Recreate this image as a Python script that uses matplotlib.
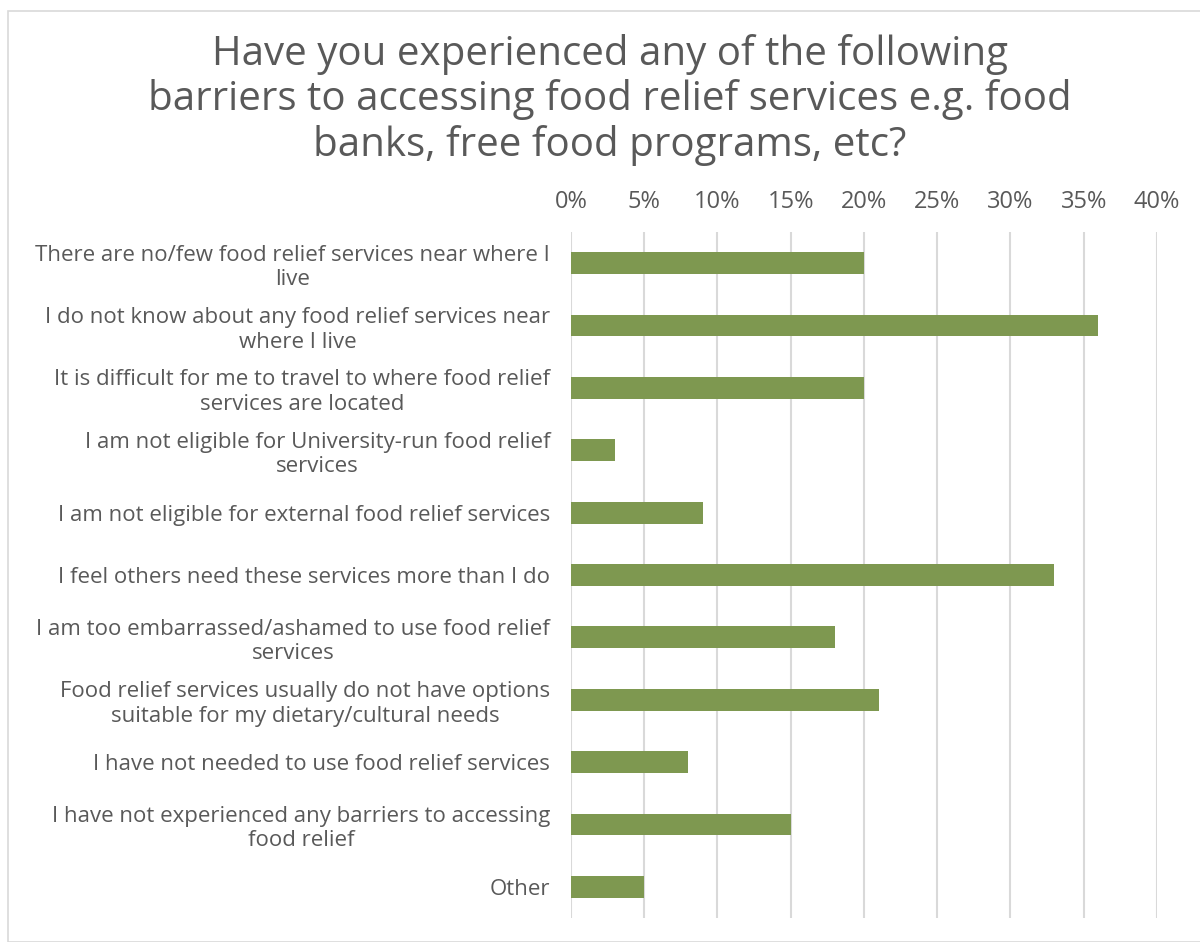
import matplotlib.pyplot as plt
from matplotlib.patches import Rectangle

plt.rcParams['font.family'] = ['Open Sans', 'DejaVu Sans']

labels = [
    "There are no/few food relief services near where I\nlive",
    "I do not know about any food relief services near\nwhere I live",
    "It is difficult for me to travel to where food relief\nservices are located",
    "I am not eligible for University-run food relief\nservices",
    "I am not eligible for external food relief services",
    "I feel others need these services more than I do",
    "I am too embarrassed/ashamed to use food relief\nservices",
    "Food relief services usually do not have options\nsuitable for my dietary/cultural needs",
    "I have not needed to use food relief services",
    "I have not experienced any barriers to accessing\nfood relief",
    "Other",
]
values = [20, 36, 20, 3, 9, 33, 18, 21, 8, 15, 5]
ticks = [0, 5, 10, 15, 20, 25, 30, 35, 40]

title = ("Have you experienced any of the following\n"
         "barriers to accessing food relief services e.g. food\n"
         "banks, free food programs, etc?")

text_col = '#595959'
bar_col = '#7E9850'

fig = plt.figure(figsize=(12, 9.42), dpi=100)
fig.patches.append(Rectangle((8 / 1200, 0), 1.2, 1 - 11 / 942, transform=fig.transFigure,
                             fill=False, edgecolor='#D9D9D9', linewidth=1.2))

ax = fig.add_axes([0.4758, 0.0255, 0.4883, 0.7282])
y = list(range(len(labels)))
ax.barh(y, values, height=0.35, color=bar_col, zorder=3)
ax.set_ylim(len(labels) - 0.5, -0.5)
ax.set_xlim(0, 40)
ax.set_xticks(ticks)
ax.set_xticklabels([f'{t}%' for t in ticks])
ax.xaxis.tick_top()
ax.tick_params(axis='x', length=0, pad=13, labelsize=17, labelcolor=text_col)
ax.tick_params(axis='y', length=0, pad=15, labelsize=16, labelcolor=text_col)
ax.set_yticks(y)
ax.set_yticklabels(labels, multialignment='center', linespacing=1.22)
ax.grid(axis='x', color='#D9D9D9', linewidth=1.5, zorder=0)
for s in ax.spines.values():
    s.set_visible(False)

fig.text(610 / 1200, 1 - 100 / 942, title, ha='center', va='center', fontsize=29,
         color=text_col, linespacing=1.13)

fig.savefig('out.png', dpi=100)
